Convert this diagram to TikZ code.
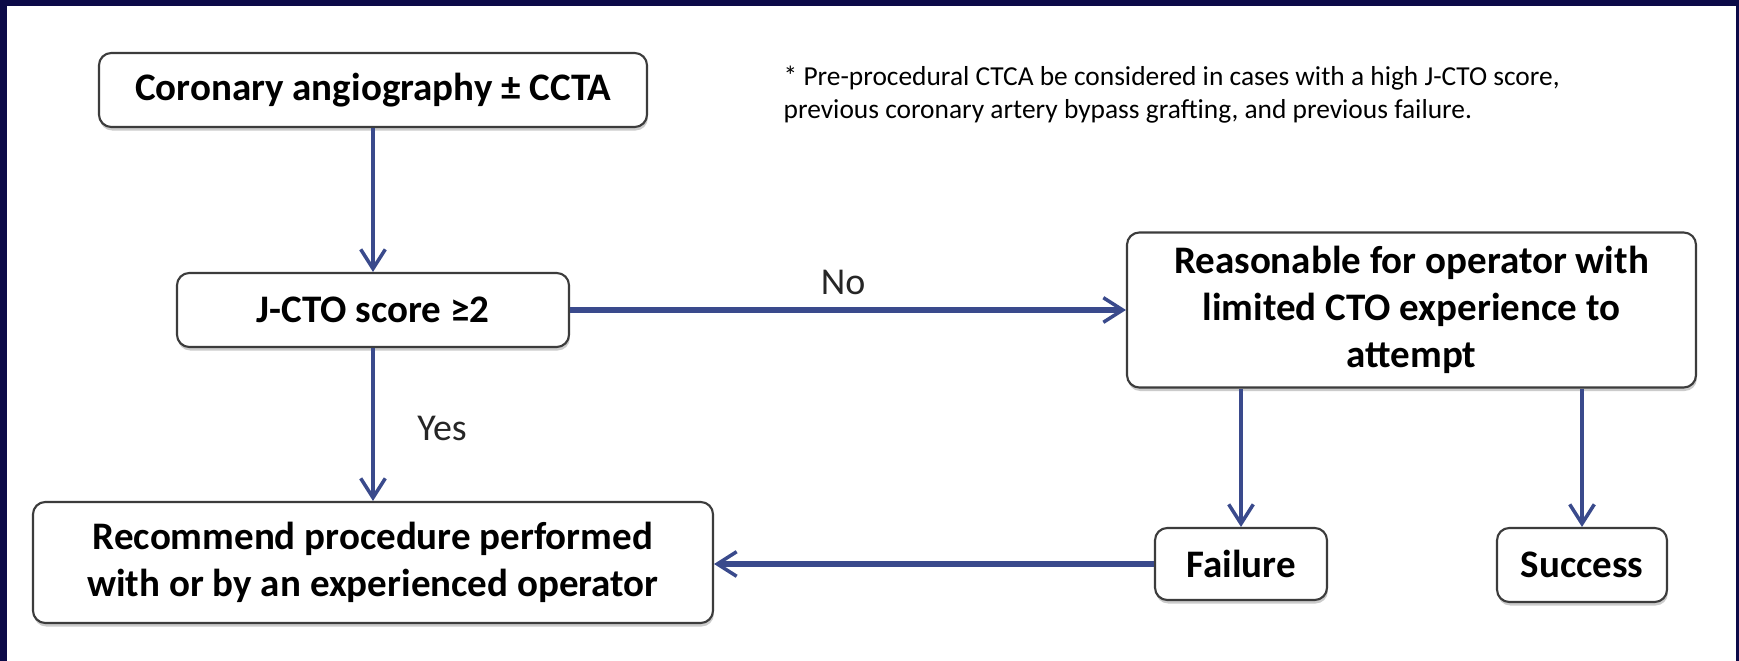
\documentclass[tikz,border=0pt]{standalone}
\usepackage{fontspec}
\setmainfont{Carlito}
\usetikzlibrary{arrows.meta,shadows}
\definecolor{framenavy}{RGB}{12,10,72}
\definecolor{arrowblue}{RGB}{58,74,140}
\definecolor{boxgray}{RGB}{60,60,60}
\tikzset{
  flowbox/.style={draw=boxgray, line width=1.2pt, rounded corners=7pt, fill=white,
    align=center, inner sep=0pt, font=\fontsize{22.2}{26.7}\selectfont\bfseries,
    drop shadow={shadow xshift=0.5pt, shadow yshift=-2pt, fill=black!40, opacity=0.5}},
  flowarrow/.style={draw=arrowblue, line width=2pt,
    -{Straight Barb[length=11pt,width=14pt,line width=2pt]}},
  answer/.style={font=\fontsize{21.6}{26}\selectfont, text=black!85}
}
\begin{document}
\begin{tikzpicture}
        \fill[framenavy] (0,0) rectangle (34.78,13.22);
        \fill[white] (0.14,0) rectangle (34.72,13.10);
        \useasboundingbox (0,0) rectangle (34.78,13.22);

        \node[flowbox, minimum width=10.96cm, minimum height=1.48cm] (coro) at (7.46,11.42) {Coronary angiography ± CCTA};
        \node[flowbox, minimum width=7.84cm, minimum height=1.48cm] (jcto) at (7.46,7.02) {J-CTO score ≥2};
        \node[flowbox, minimum width=13.6cm, minimum height=2.42cm] (rec) at (7.46,1.97) {Recommend procedure performed\\with or by an experienced operator};
        \node[flowbox, minimum width=11.38cm, minimum height=3.1cm] (reas) at (28.23,7.02) {Reasonable for operator with\\limited CTO experience to\\attempt};
        \node[flowbox, minimum width=3.44cm, minimum height=1.44cm] (fail) at (24.82,1.94) {Failure};
        \node[flowbox, minimum width=3.4cm, minimum height=1.48cm] (succ) at (31.64,1.92) {Success};

        \draw[flowarrow] (coro) -- (jcto);
        \draw[flowarrow, line width=3pt] (jcto.east) -- (jcto.east -| reas.west);
        \node[answer] (no) at (16.86,7.58) {No};
        \draw[flowarrow] (jcto) -- (rec);
        \node[answer] (yes) at (8.84,4.66) {Yes};
        \draw[flowarrow] (reas.south -| fail.north) -- (fail.north);
        \draw[flowarrow] (reas.south -| succ.north) -- (succ.north);
        \draw[flowarrow, line width=3pt] (fail.west) -- (fail.west -| rec.east);

        \node[anchor=base west, align=left, font=\fontsize{15.6}{19}\selectfont] (note) at (15.55,10.85)
          {* Pre-procedural CTCA be considered in cases with a high J-CTO score,\\previous coronary artery bypass grafting, and previous failure.};
      \end{tikzpicture}
\end{document}
